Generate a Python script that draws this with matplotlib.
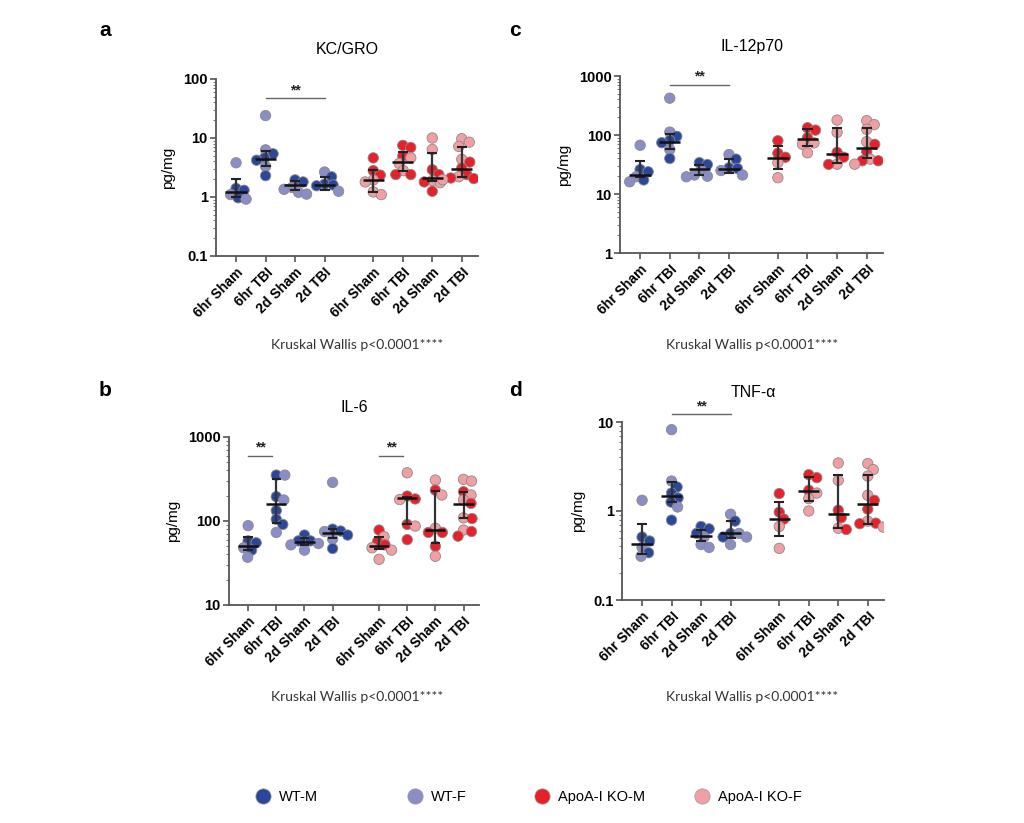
import numpy as np
import matplotlib
matplotlib.use('Agg')
import matplotlib.pyplot as plt
from matplotlib.lines import Line2D
from matplotlib.ticker import FixedLocator, NullFormatter

plt.rcParams['font.family'] = ['Liberation Sans', 'DejaVu Sans']

groups = ['6hr Sham', '6hr TBI', '2d Sham', '2d TBI',
          '6hr Sham', '6hr TBI', '2d Sham', '2d TBI']
xpos = [0, 1, 2, 3, 4.65, 5.65, 6.65, 7.65]

# KC/GRO (males / females per group, median + IQR)
kc_m = [[1.4, 1.3, 0.97], [5.4, 4.6, 4.2, 2.3], [1.95, 1.8], [2.2, 1.65, 1.6, 1.55],
        [4.6, 2.8, 2.35], [7.5, 6.9, 4.95, 2.4, 2.4], [2.9, 2.4, 1.8, 1.25],
        [3.9, 3.1, 2.4, 2.1, 2.05]]
kc_f = [[3.8, 1.1, 0.92], [24, 6.3, 3.3], [1.45, 1.35, 1.12, 1.2], [2.65, 1.25],
        [1.95, 1.8, 1.22, 1.1], [4.6, 3.7, 2.8], [10, 6.4, 1.9, 1.75],
        [9.7, 8.5, 7.2, 4.35, 2.2, 1.97]]
kc_med = [1.2, 4.35, 1.58, 1.58, 1.97, 3.95, 2.12, 3.0]
kc_lo = [1.0, 3.4, 1.3, 1.33, 1.22, 2.8, 1.85, 2.2]
kc_hi = [2.05, 6.0, 1.85, 2.2, 2.9, 5.9, 5.6, 7.1]

# IL-6
il6_m = [[58, 55, 45], [352, 195, 133, 105, 91], [68, 58, 58], [80, 76, 68, 47],
         [78, 57, 52], [198, 183, 91, 60], [233, 73, 73, 50],
         [223, 162, 107, 75, 66]]
il6_f = [[88, 48, 37], [352, 178, 73], [54, 52, 45], [288, 75, 61],
         [65, 48, 45, 35], [375, 180, 87], [307, 204, 82, 38],
         [313, 299, 204, 178, 109, 78]]
il6_med = [51, 158, 57, 71, 51, 188, 78, 160]
il6_lo = [45, 95, 52, 62, 47, 92, 55, 109]
il6_hi = [65, 312, 62, 80, 65, 195, 227, 223]

# IL-12p70
il12_m = [[26, 23.8, 17.3], [95, 81, 74, 40], [34, 31.6], [39, 27.8, 27],
          [80, 49, 42], [133, 121, 90], [50.7, 42, 31.8], [69.5, 52, 36.6, 36.6]]
il12_f = [[67, 19.6, 16.1], [421, 112, 56.6], [25, 21, 19.6, 20], [46.6, 25, 21],
          [34, 18.9], [73.6, 69.5, 50], [179, 111, 32], [175, 150, 125, 77, 39, 32]]
il12_med = [21.4, 76, 27, 27, 41, 84.6, 47, 59.5]
il12_lo = [19.6, 59, 21.4, 22.3, 26.6, 65, 34, 40]
il12_hi = [36.5, 105, 31.6, 38.5, 65, 124, 130, 133]

# TNF-alpha
tnf_m = [[0.51, 0.46, 0.34], [1.86, 1.59, 1.4, 1.26, 0.79], [0.67, 0.63, 0.56],
         [0.77, 0.56, 0.51], [1.57, 0.97, 0.81], [2.56, 2.37, 1.71],
         [1.02, 0.84, 0.62], [1.32, 1.05, 0.73, 0.72]]
tnf_f = [[1.32, 0.39, 0.31], [8.2, 2.17, 1.11], [0.51, 0.42, 0.39],
         [0.92, 0.56, 0.51, 0.42], [0.67, 0.38], [1.59, 1.38, 1.0],
         [3.46, 2.21, 0.64], [3.41, 2.92, 2.47, 1.5, 0.77, 0.66]]
tnf_med = [0.43, 1.46, 0.53, 0.56, 0.81, 1.66, 0.92, 1.21]
tnf_lo = [0.33, 1.26, 0.46, 0.5, 0.52, 1.29, 0.64, 0.72]
tnf_hi = [0.71, 2.1, 0.61, 0.77, 1.26, 2.4, 2.52, 2.56]

legend_labels = ['WT-M', 'WT-F', 'ApoA-I KO-M', 'ApoA-I KO-F']
colors = ['#2B479A', '#8A8DC6', '#E8202A', '#F29FA3']

W, H = 1024, 823
fig = plt.figure(figsize=(W / 100, H / 100), dpi=100)


def px_axes(x0, x1, ytop, ybot):
    return fig.add_axes([x0 / W, 1 - ybot / H, (x1 - x0) / W, (ybot - ytop) / H])


def swarm(ax, x0, vals, cols, diam=9.5):
    # simple beeswarm in pixel space
    pts = sorted(zip(vals, cols), key=lambda p: -p[0])
    xp = ax.transData.transform((x0, 1))[0]
    placed = []
    xs, ys, cs = [], [], []
    for v, c in pts:
        yp = ax.transData.transform((x0, v))[1]
        for k in range(0, 80):
            dx = (k + 1) // 2 * (1 if k % 2 else -1) * 0.5
            if all(np.hypot(dx - pdx, yp - pyy) >= 0.85 * diam for pdx, pyy in placed):
                break
        placed.append((dx, yp))
        xs.append(ax.transData.inverted().transform((xp + dx, yp))[0])
        ys.append(v)
        cs.append(c)
    ax.scatter(xs, ys, s=56, c=cs, edgecolors='#8a8a8a', linewidths=0.6, zorder=3)


def panel(ax, males, females, med, lo, hi, ylim, title, sigs):
    ax.set_yscale('log')
    ax.set_ylim(*ylim)
    ax.set_xlim(-0.68, 8.2)
    for i, x in enumerate(xpos):
        wt = i < 4
        vals = males[i] + females[i]
        cols = [colors[0 if wt else 2]] * len(males[i]) + [colors[1 if wt else 3]] * len(females[i])
        swarm(ax, x, vals, cols)
    ax.vlines(xpos, lo, hi, color='#333333', lw=1.6, zorder=4)
    ax.hlines(lo, np.array(xpos) - 0.17, np.array(xpos) + 0.17, color='#222222', lw=1.5, zorder=4)
    ax.hlines(hi, np.array(xpos) - 0.17, np.array(xpos) + 0.17, color='#222222', lw=1.5, zorder=4)
    ax.hlines(med, np.array(xpos) - 0.36, np.array(xpos) + 0.36, color='#111111', lw=1.8, zorder=5)

    for s in ['top', 'right']:
        ax.spines[s].set_visible(False)
    for s in ['left', 'bottom']:
        ax.spines[s].set_color('#555555')
        ax.spines[s].set_linewidth(1.3)
    decades = 10.0 ** np.arange(np.log10(ylim[0]), np.log10(ylim[1]) + 0.5)
    ax.yaxis.set_major_locator(FixedLocator(decades))
    ax.set_yticklabels(['%g' % d for d in decades], fontweight='bold', fontsize=10.5)
    minors = [d * m for d in decades[:-1] for m in range(2, 10)]
    ax.yaxis.set_minor_locator(FixedLocator(minors))
    ax.yaxis.set_minor_formatter(NullFormatter())
    ax.tick_params(axis='y', which='major', length=4, width=1.2, color='#555555', pad=2)
    ax.tick_params(axis='y', which='minor', length=2.5, width=0.8, color='#777777')
    ax.set_xticks(xpos)
    ax.set_xticklabels(groups, rotation=45, ha='right', rotation_mode='anchor',
                       fontweight='bold', fontsize=10)
    ax.tick_params(axis='x', length=4, width=1.2, color='#555555', pad=3)
    ax.set_ylabel('pg/mg', fontsize=11, labelpad=6)
    ax.set_title(title, fontsize=11.5, pad=18)
    for xa, xb, yv in sigs:
        ax.plot([xa, xb], [yv, yv], color='#666666', lw=1.0, clip_on=False)
        ax.text((xa + xb) / 2, yv * 1.03, '**', ha='center', va='bottom',
                fontsize=10, fontweight='bold', color='#222222')
    ax.patch.set_alpha(0)


ax_a = px_axes(216, 478, 79, 256)
panel(ax_a, kc_m, kc_f, kc_med, kc_lo, kc_hi, (0.1, 100), 'KC/GRO', [(1, 3, 47.6)])
ax_c = px_axes(620, 883, 76, 253)
panel(ax_c, il12_m, il12_f, il12_med, il12_lo, il12_hi, (1, 1000), 'IL-12p70', [(1, 3, 715)])
ax_b = px_axes(229, 479, 437, 605)
panel(ax_b, il6_m, il6_f, il6_med, il6_lo, il6_hi, (10, 1000), 'IL-6',
      [(0, 0.86, 600), (4.65, 5.5, 600)])
ax_d = px_axes(622, 884, 422, 600)
panel(ax_d, tnf_m, tnf_f, tnf_med, tnf_lo, tnf_hi, (0.1, 10), 'TNF-\u03b1', [(1, 3, 12.2)])

# Kruskal Wallis notes
for xc, yc in [(357, 345), (752, 345), (357, 697), (752, 697)]:
    fig.text(xc / W, 1 - yc / H, 'Kruskal Wallis p<0.0001****', ha='center', va='center',
             fontsize=10, color='#333333', family=['Lato', 'DejaVu Sans'])

# panel letters
for lab, xc, yc in [('a', 105, 30), ('c', 515, 30), ('b', 105, 390), ('d', 515, 390)]:
    fig.text(xc / W, 1 - yc / H, lab, ha='center', va='center', fontsize=15, fontweight='bold')

# legend
for lab, col, xm in zip(legend_labels, colors, [263, 415, 542, 702]):
    h = Line2D([], [], marker='o', ls='', markersize=11, markerfacecolor=col,
               markeredgecolor='#9a9a9a', markeredgewidth=0.5)
    fig.legend(handles=[h], labels=[lab], loc='center left',
               bbox_to_anchor=((xm - 7) / W, 1 - 797 / H), frameon=False, fontsize=10.5,
               handlelength=1.0, handletextpad=0.6, borderpad=0, borderaxespad=0)

fig.savefig('out.png', dpi=100)
